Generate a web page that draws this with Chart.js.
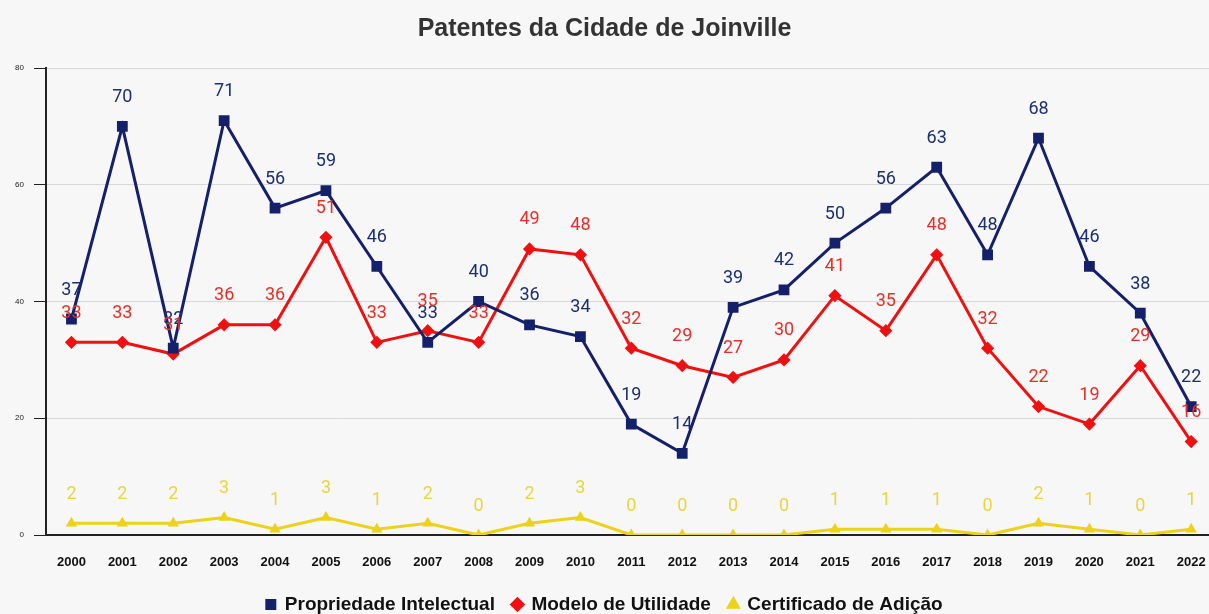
<!doctype html>
<html lang="pt">
<head>
  <meta charset="utf-8">
  <title>Patentes da Cidade de Joinville</title>
  <script src="https://cdn.jsdelivr.net/npm/chart.js"></script>
  <style>
    html, body { margin: 0; padding: 0; background: #f7f7f7; }
    #wrap { width: 1209px; height: 614px; }
  </style>
</head>
<body>
  <div id="wrap"><canvas id="patentChart" width="1209" height="614"></canvas></div>

  <script>
    // data
    const years = [2000, 2001, 2002, 2003, 2004, 2005, 2006, 2007, 2008, 2009, 2010, 2011,
                   2012, 2013, 2014, 2015, 2016, 2017, 2018, 2019, 2020, 2021, 2022];
    const propriedade = [37, 70, 32, 71, 56, 59, 46, 33, 40, 36, 34, 19, 14, 39, 42, 50, 56, 63, 48, 68, 46, 38, 22];
    const modelo = [33, 33, 31, 36, 36, 51, 33, 35, 33, 49, 48, 32, 29, 27, 30, 41, 35, 48, 32, 22, 19, 29, 16];
    const certificado = [2, 2, 2, 3, 1, 3, 1, 2, 0, 2, 3, 0, 0, 0, 0, 1, 1, 1, 0, 2, 1, 0, 1];
    const yTicks = [0, 20, 40, 60, 80];

    const toPoints = vals => vals.map((v, i) => ({ x: years[i], y: v }));

    // small inline plugin: value labels above each point
    const valueLabels = {
      id: 'valueLabels',
      afterDatasetsDraw(chart) {
        const ctx = chart.ctx;
        ctx.save();
        ctx.font = '18px Roboto';
        ctx.textAlign = 'center';
        ctx.textBaseline = 'middle';
        chart.data.datasets.forEach((ds, di) => {
          const meta = chart.getDatasetMeta(di);
          ctx.fillStyle = ds.labelColor;
          meta.data.forEach((pt, i) => {
            ctx.fillText(String(ds.data[i].y), pt.x, pt.y - 29);
          });
        });
        ctx.restore();
      }
    };

    const ctx = document.getElementById('patentChart').getContext('2d');
    new Chart(ctx, {
      type: 'line',
      data: {
        datasets: [
          {
            label: 'Propriedade Intelectual',
            data: toPoints(propriedade),
            borderColor: '#15206a',
            backgroundColor: '#15206a',
            labelColor: '#1c2f72',
            borderWidth: 3,
            pointStyle: 'rect',
            pointRadius: 5.5,
            tension: 0
          },
          {
            label: 'Modelo de Utilidade',
            data: toPoints(modelo),
            borderColor: '#ee1111',
            backgroundColor: '#ee1111',
            labelColor: '#e5302a',
            borderWidth: 3,
            pointStyle: 'rectRot',
            pointRadius: 4.5,
            tension: 0
          },
          {
            label: 'Certificado de Adição',
            data: toPoints(certificado),
            borderColor: '#ecd21a',
            backgroundColor: '#ecd21a',
            labelColor: '#e9d442',
            borderWidth: 3,
            pointStyle: 'triangle',
            pointRadius: 3.5,
            tension: 0
          }
        ]
      },
      options: {
        responsive: false,
        animation: false,
        layout: { autoPadding: false, padding: { top: 0, right: 0, left: 0, bottom: -10 } },
        plugins: {
          title: {
            display: true,
            text: 'Patentes da Cidade de Joinville',
            color: '#333',
            font: { family: 'Liberation Sans', size: 25, weight: 'bold' },
            padding: { top: 14, bottom: 24 }
          },
          legend: {
            position: 'bottom',
            labels: {
              usePointStyle: true,
              boxWidth: 9,
              boxHeight: 8,
              color: '#111',
              font: { family: 'Liberation Sans', size: 19, weight: 'bold' },
              padding: 18
            }
          },
          tooltip: { enabled: false }
        },
        scales: {
          x: {
            type: 'linear',
            min: 1999.5,
            max: 2022.35,
            afterBuildTicks: axis => { axis.ticks = years.map(v => ({ value: v })); },
            afterFit: axis => { axis.paddingRight = 0; axis.paddingLeft = 0; axis.height = 42; },
            grid: { display: false, drawTicks: true, tickLength: 13, tickColor: '#222', tickWidth: 2 },
            border: { display: true, color: '#222', width: 2 },
            ticks: {
              color: '#111',
              font: { family: 'Liberation Sans', size: 13, weight: 'bold' },
              maxRotation: 0,
              autoSkip: false,
              padding: 7,
              callback: v => String(v)
            }
          },
          y: {
            min: 0,
            max: 80,
            afterBuildTicks: axis => { axis.ticks = yTicks.map(v => ({ value: v })); },
            afterFit: axis => { axis.width = 46; },
            grid: { color: '#d8d8d8', lineWidth: 1, tickLength: 12, tickColor: '#222' },
            border: { display: true, color: '#222', width: 2 },
            ticks: {
              color: '#222',
              font: { family: 'Liberation Sans', size: 8 },
              padding: 10
            }
          }
        }
      },
      plugins: [valueLabels]
    });
  </script>
</body>
</html>
